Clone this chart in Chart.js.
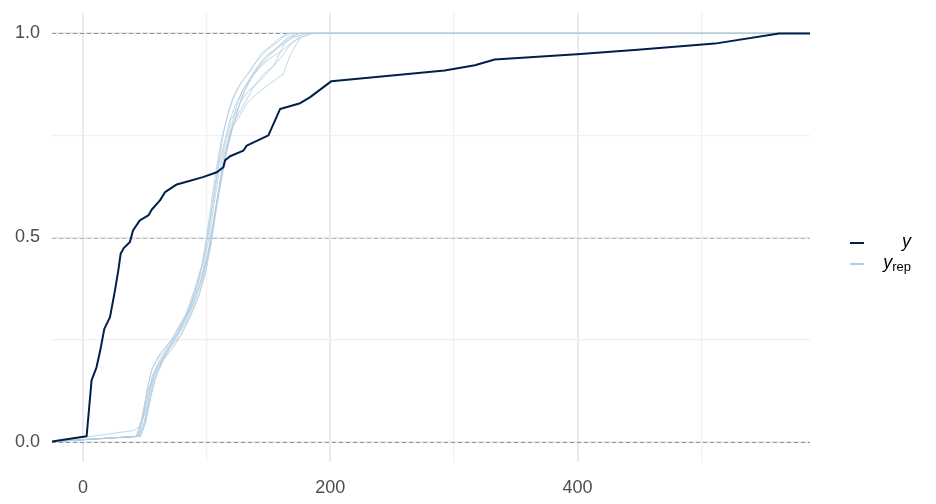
<!DOCTYPE html>
<html>
<head>
<meta charset="utf-8">
<script src="https://cdn.jsdelivr.net/npm/chart.js@4.4.1/dist/chart.umd.min.js"></script>
<style>
html,body{margin:0;padding:0;background:#fff;}
#wrap{position:relative;width:936px;height:504px;overflow:hidden;}
canvas{display:block;}
.sw{position:absolute;left:850px;width:14px;height:2px;}
.lab{position:absolute;right:25px;font-family:"Liberation Sans",Arial,sans-serif;font-size:18px;color:#000;line-height:20px;white-space:nowrap;}
.lab i{font-style:italic;}
.lab sub{font-size:13px;vertical-align:-3px;line-height:0;}
</style>
</head>
<body>
<div id="wrap">
<canvas id="c" width="936" height="504"></canvas>
<div class="sw" style="top:242px;background:#011f4b;"></div>
<div class="lab" style="top:231px;"><i>y</i></div>
<div class="sw" style="top:263px;background:#b3cde0;"></div>
<div class="lab" style="top:252px;"><i>y</i><sub>rep</sub></div>
</div>
<script>
// axis limits and ticks
const X_MIN = -25, X_MAX = 588;
const xTickValues = [0, 100, 200, 300, 400, 500];
const xTickLabels = ['0', '', '200', '', '400', ''];
const yTickValues = [0, 0.25, 0.5, 0.75, 1];
const yTickLabels = ['0.0', '', '0.5', '', '1.0'];
const refLines = [0, 0.5, 1];

// observed ECDF (y)
const obsX = [3,7,11,14,17.3,21.9,25.9,28.6,30.5,33,38,40.5,46,52.9,55.6,62.3,66.4,70.4,75.9,85.3,97,108.3,113.6,115,119,129.8,132.5,150,159.5,175.7,183.8,201,292.5,317,333,399.5,448.6,511,563];
const obsF = [0.013,0.15,0.182,0.223,0.276,0.305,0.37,0.419,0.46,0.474,0.489,0.517,0.542,0.554,0.568,0.591,0.611,0.619,0.63,0.638,0.648,0.66,0.672,0.689,0.699,0.713,0.725,0.75,0.815,0.829,0.844,0.883,0.909,0.922,0.936,0.949,0.96,0.975,1];

// replicated ECDFs (y_rep)
const rep1X = [41,47,52,56,62,70,78,84,90,97,102,106,110,115,120,126,131,138,146,156,166,176];
const rep1F = [0.027,0.04,0.09,0.16,0.2,0.24,0.27,0.31,0.36,0.42,0.5,0.58,0.66,0.73,0.79,0.82,0.86,0.9,0.93,0.96,0.99,1];
const rep2X = [45,48,53,58,66,74,80,88,95,101,105,109,114,119,123,129,134,142,150,160,170,182];
const rep2F = [0.013,0.05,0.12,0.17,0.21,0.25,0.29,0.33,0.39,0.46,0.53,0.6,0.68,0.75,0.79,0.85,0.88,0.92,0.95,0.97,0.99,1];
const rep3X = [46,50,54,57,63,71,79,86,93,99,104,108,112,116,121,127,133,140,148,162,168,176,186];
const rep3F = [0.013,0.04,0.1,0.15,0.19,0.23,0.26,0.3,0.35,0.41,0.49,0.57,0.64,0.71,0.77,0.8,0.83,0.85,0.87,0.9,0.95,0.99,1];
const rep4X = [44,49,52,56,64,72,77,85,91,97,102,106,110,114,118,123,128,136,144,152,160,168];
const rep4F = [0.013,0.06,0.13,0.18,0.22,0.25,0.28,0.32,0.37,0.44,0.52,0.61,0.69,0.76,0.81,0.85,0.88,0.91,0.95,0.97,0.99,1];
const rep5X = [47,51,55,60,68,76,82,89,96,102,106,110,114,119,125,131,138,146,154,159,164,174];
const rep5F = [0.013,0.05,0.11,0.17,0.22,0.26,0.29,0.34,0.4,0.47,0.55,0.62,0.7,0.76,0.8,0.83,0.87,0.9,0.92,0.95,0.98,1];
const rep6X = [43,47,51,55,61,69,76,83,90,96,100,104,108,112,117,121,126,133,140,149,158,165];
const rep6F = [0.013,0.05,0.11,0.17,0.21,0.24,0.27,0.31,0.37,0.43,0.5,0.59,0.67,0.74,0.8,0.84,0.87,0.9,0.93,0.96,0.98,1];
const rep7X = [46,49,53,58,65,73,81,87,94,100,104,108,112,117,122,127,134,142,151,160,167,178];
const rep7F = [0.013,0.04,0.09,0.15,0.2,0.23,0.27,0.31,0.36,0.43,0.5,0.58,0.66,0.72,0.78,0.83,0.86,0.88,0.91,0.94,0.97,1];
const rep8X = [45,50,54,59,67,75,83,90,97,103,107,111,115,120,124,129,136,144,152,162,170,184];
const rep8F = [0.013,0.05,0.12,0.18,0.22,0.25,0.29,0.34,0.4,0.48,0.56,0.63,0.7,0.77,0.82,0.86,0.89,0.92,0.94,0.96,0.98,1];
const rep9X = [44,48,52,57,64,71,79,86,92,98,102,106,110,115,119,124,131,139,147,155,162,171];
const rep9F = [0.013,0.06,0.12,0.16,0.2,0.24,0.28,0.32,0.38,0.45,0.53,0.6,0.68,0.74,0.79,0.83,0.87,0.91,0.94,0.96,0.98,1];

const reps = [[rep1X,rep1F],[rep2X,rep2F],[rep3X,rep3F],[rep4X,rep4F],[rep5X,rep5F],[rep6X,rep6F],[rep7X,rep7F],[rep8X,rep8F],[rep9X,rep9F]];

// ECDF padded to the panel edges (like stat_ecdf pad = TRUE)
const ecdfPoints = (xs, fs) => [{x: X_MIN, y: 0}].concat(xs.map((x, i) => ({x: x, y: fs[i]})), [{x: X_MAX, y: 1}]);

const datasets = [{
  label: 'y',
  data: ecdfPoints(obsX, obsF),
  borderColor: '#011f4b',
  borderWidth: 2,
  order: 0
}];
reps.forEach((r, i) => datasets.push({
  label: 'yrep' + (i + 1),
  data: ecdfPoints(r[0], r[1]),
  borderColor: 'rgba(179,205,224,0.8)',
  borderWidth: 1,
  order: 1
}));

const refColors = ['rgba(1,31,75,0.42)', 'rgba(1,31,75,0.25)', 'rgba(1,31,75,0.42)'];
const refLinePlugin = {
  id: 'refLines',
  beforeDatasetsDraw(chart) {
    const {ctx, chartArea: a, scales: {y}} = chart;
    ctx.save();
    refLines.forEach((v, i) => {
      const py = Math.round(y.getPixelForValue(v)) + 0.5;
      ctx.strokeStyle = refColors[i];
      ctx.lineWidth = 1;
      ctx.setLineDash([4, 3]);
      ctx.beginPath();
      ctx.moveTo(a.left, py);
      ctx.lineTo(a.right, py);
      ctx.stroke();
    });
    ctx.restore();
  }
};

const font = {family: '"Liberation Sans", Arial, sans-serif', size: 18};

new Chart(document.getElementById('c'), {
  type: 'line',
  data: {datasets: datasets},
  plugins: [refLinePlugin],
  options: {
    responsive: false,
    animation: false,
    layout: {padding: {top: 13, right: 126, left: 0, bottom: 0}},
    plugins: {legend: {display: false}, tooltip: {enabled: false}},
    elements: {point: {radius: 0}, line: {tension: 0, borderCapStyle: 'round', borderJoinStyle: 'round'}},
    scales: {
      x: {
        type: 'linear', min: X_MIN, max: X_MAX,
        afterBuildTicks: s => { s.ticks = xTickValues.map(v => ({value: v})); },
        afterFit: s => { s.height = 42; s.paddingLeft = 0; s.paddingRight = 0; },
        border: {display: false},
        grid: {
          drawTicks: false,
          color: c => (c.tick && c.tick.value % 200 === 0) ? '#ebebeb' : '#f0f0f0',
          lineWidth: c => (c.tick && c.tick.value % 200 === 0) ? 2 : 1.2
        },
        ticks: {
          autoSkip: false, maxRotation: 0, padding: 15, color: '#4d4d4d', font: font,
          callback: (v, i) => xTickLabels[i]
        }
      },
      y: {
        type: 'linear', min: -0.05, max: 1.05,
        afterBuildTicks: s => { s.ticks = yTickValues.map(v => ({value: v})); },
        afterFit: s => { s.width = 52; s.paddingTop = 0; s.paddingBottom = 0; },
        border: {display: false},
        grid: {
          drawTicks: false,
          color: c => (c.tick && c.tick.value % 0.5 === 0) ? '#ebebeb' : '#f0f0f0',
          lineWidth: c => (c.tick && c.tick.value % 0.5 === 0) ? 2 : 1.2
        },
        ticks: {
          autoSkip: false, padding: 12, color: '#4d4d4d', font: font,
          callback: (v, i) => yTickLabels[i]
        }
      }
    }
  }
});
</script>
</body>
</html>
